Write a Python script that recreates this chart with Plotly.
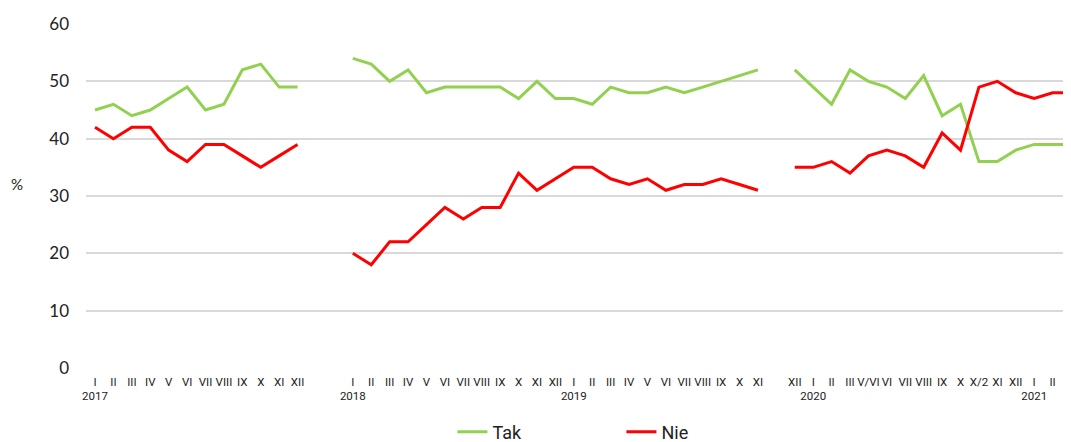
import plotly.graph_objects as go

# Month labels; "" marks an empty slot between survey blocks
months = ["I", "II", "III", "IV", "V", "VI", "VII", "VIII", "IX", "X", "XI", "XII",
          "", "",
          "I", "II", "III", "IV", "V", "VI", "VII", "VIII", "IX", "X", "XI", "XII",
          "I", "II", "III", "IV", "V", "VI", "VII", "VIII", "IX", "X", "XI",
          "",
          "XII", "I", "II", "III", "V/VI", "VI", "VII", "VIII", "IX", "X", "X/2", "XI", "XII",
          "I", "II", "III"]
years = ["2017", "", "", "", "", "", "", "", "", "", "", "",
         "", "",
         "2018", "", "", "", "", "", "", "", "", "", "", "",
         "2019", "", "", "", "", "", "", "", "", "", "",
         "",
         "", "2020", "", "", "", "", "", "", "", "", "", "", "",
         "2021", "", ""]
tak = [45, 46, 44, 45, 47, 49, 45, 46, 52, 53, 49, 49,
       None, None,
       54, 53, 50, 52, 48, 49, 49, 49, 49, 47, 50, 47,
       47, 46, 49, 48, 48, 49, 48, 49, 50, 51, 52,
       None,
       52, 49, 46, 52, 50, 49, 47, 51, 44, 46, 36, 36, 38,
       39, 39, 39]
nie = [42, 40, 42, 42, 38, 36, 39, 39, 37, 35, 37, 39,
       None, None,
       20, 18, 22, 22, 25, 28, 26, 28, 28, 34, 31, 33,
       35, 35, 33, 32, 33, 31, 32, 32, 33, 32, 31,
       None,
       35, 35, 36, 34, 37, 38, 37, 35, 41, 38, 49, 50, 48,
       47, 48, 48]
y_ticks = [0, 10, 20, 30, 40, 50, 60]

idx = list(range(len(months)))
tick_vals = [i for i, m in enumerate(months) if m]
tick_text = [months[i] + ("<br>" + years[i] if years[i] else "<br> ") for i in tick_vals]

fig = go.Figure()
fig.add_trace(go.Scatter(x=idx, y=tak, name="Tak", mode="lines",
                         line=dict(color="#92D050", width=3), connectgaps=False))
fig.add_trace(go.Scatter(x=idx, y=nie, name="Nie", mode="lines",
                         line=dict(color="#FF0000", width=3), connectgaps=False))

# page body has an 8px default margin, so the figure is sized/offset to compensate
fig.update_layout(
    template="none",
    width=1063, height=434,
    margin=dict(l=78, r=0, t=16, b=74, autoexpand=False),
    paper_bgcolor="white", plot_bgcolor="white",
    font=dict(family="Roboto", color="#222222"),
    showlegend=True,
    legend=dict(orientation="h", x=0.372, xanchor="left", y=-0.186, yanchor="middle",
                font=dict(size=18, family="Roboto", color="#222222"),
                entrywidth=124, entrywidthmode="pixels", tracegroupgap=0),
    xaxis=dict(range=[-0.49, 53.0], tickmode="array", tickvals=tick_vals, ticktext=tick_text,
               tickangle=0, showgrid=False, zeroline=False, showline=False, ticks="",
               ticklabelstandoff=5, ticklabeloverflow="allow",
               tickfont=dict(size=11.5, family="Roboto", color="#222222"), automargin=False),
    yaxis=dict(range=[0, 60], tickmode="array", tickvals=y_ticks,
               showgrid=True, gridcolor="#D9D9D9", gridwidth=1.5, zeroline=False,
               showline=False, ticks="", ticklabelstandoff=16,
               tickfont=dict(size=17, family="Lato", color="#222222"), automargin=False),
)
fig.add_annotation(text="%", xref="paper", yref="paper", x=-0.07, y=0.535,
                   showarrow=False, xanchor="center", yanchor="middle",
                   font=dict(size=15, family="Lato", color="#222222"))

fig.write_html("out.html")
